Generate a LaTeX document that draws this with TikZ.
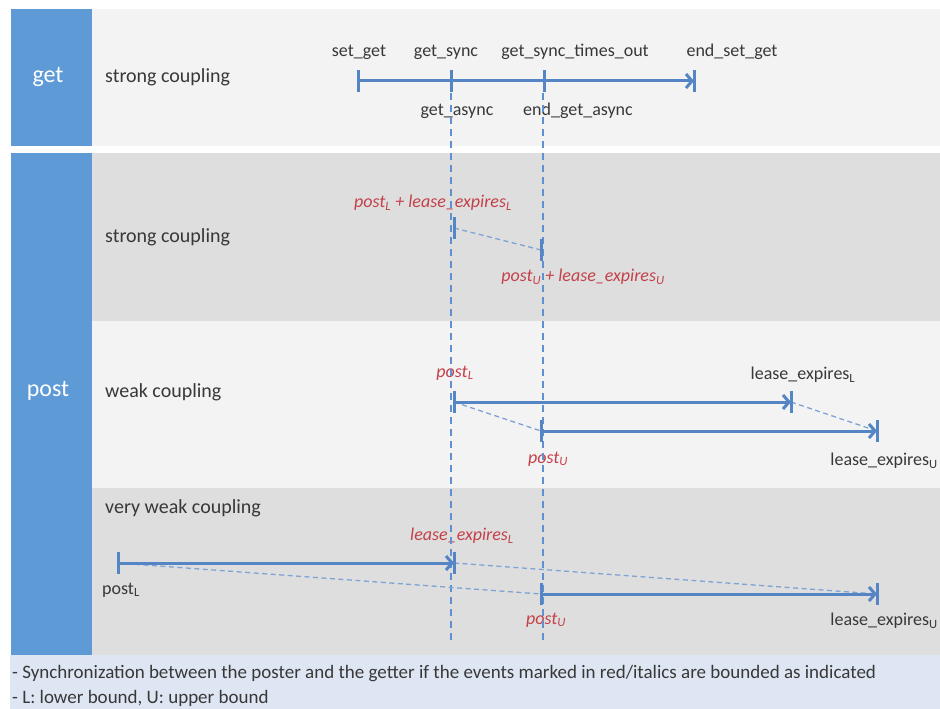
\documentclass[tikz,border=0pt]{standalone}
\usepackage{fontspec}
\setmainfont{Carlito}
\usetikzlibrary{arrows.meta}

\definecolor{colblue}{HTML}{5E9BD6}
\definecolor{rowlight}{HTML}{F3F3F3}
\definecolor{rowdark}{HTML}{DEDEDE}
\definecolor{footbg}{HTML}{DDE6F2}
\definecolor{linkblue}{HTML}{5585C4}
\definecolor{guideblue}{HTML}{5F91D0}
\definecolor{boundblue}{HTML}{7EA4D6}
\definecolor{evred}{HTML}{C4404A}
\definecolor{ink}{HTML}{383838}

% lowered index for bounds (L / U)
\newcommand\lo[1]{\textsubscript{#1}}

\begin{document}
\begin{tikzpicture}[x=1pt,y=-1pt,
  lbl/.style={font=\fontsize{18}{20}\selectfont, text=ink, inner sep=0pt},
  redlbl/.style={lbl, text=evred, font=\fontsize{18}{20}\selectfont\itshape},
  rowlbl/.style={font=\fontsize{20}{22}\selectfont, text=ink, anchor=west, inner sep=0pt},
  grp/.style={font=\fontsize{24}{26}\selectfont, text=white, inner sep=0pt},
  footlbl/.style={font=\fontsize{19}{21}\selectfont, text=ink, anchor=west, inner sep=0pt},
  span/.style={draw=linkblue, line width=3pt, -{Straight Barb[length=6pt,width=14pt]}},
  tickmark/.style={draw=linkblue, line width=3pt},
  bound/.style={draw=boundblue, line width=1.3pt, dash pattern=on 5pt off 3.5pt},
  guide/.style={draw=guideblue, line width=1.1pt, dash pattern=on 7pt off 5pt}]

\newcommand\tickat[1]{\draw[tickmark] (#1) ++(0,-11) -- ++(0,22);}

\useasboundingbox (0,0) rectangle (940,709);
\fill[white] (0,0) rectangle (940,709);

% ---- bands ----
\fill[rowlight] (92,9) rectangle (940,146);
\fill[rowdark]  (92,153) rectangle (940,321);
\fill[rowlight] (92,321) rectangle (940,488);
\fill[rowdark]  (92,488) rectangle (940,655);
\fill[colblue]  (11,9) rectangle (92,146);
\fill[colblue]  (11,153) rectangle (92,655);
\fill[footbg]   (10,655) rectangle (940,709);

% ---- group and row titles ----
\node[grp] (gget)  at (48,77)  {get};
\node[grp] (gpost) at (48,391) {post};
\node[rowlbl] (rget)    at (105,77)  {strong coupling};
\node[rowlbl] (rstrong) at (105,237) {strong coupling};
\node[rowlbl] (rweak)   at (105,392) {weak coupling};
\node[rowlbl] (rvweak)  at (105,508) {very weak coupling};

% ---- footer ----
\node[footlbl] (f1) at (12,674) {- Synchronization between the poster and the getter if the events marked in red/italics are bounded as indicated};
\node[footlbl] (f2) at (12,698) {- L: lower bound, U: upper bound};

% ---- event points ----
\coordinate (gS) at (358,81);
\coordinate (gA) at (451,81);
\coordinate (gT) at (544,81);
\coordinate (gE) at (694,81);

\coordinate (sL) at (454,228);
\coordinate (sU) at (541,250);

\coordinate (wL1) at (454,402);
\coordinate (wL2) at (791,402);
\coordinate (wU1) at (541,431);
\coordinate (wU2) at (877,431);

\coordinate (vL1) at (118,563);
\coordinate (vL2) at (454,563);
\coordinate (vU1) at (541,594);
\coordinate (vU2) at (877,594);

% ---- event labels ----
\node[lbl] (tS) at (359,52) {set\_get};
\node[lbl] (tA) at (446,52) {get\_sync};
\node[lbl] (tT) at (575,52) {get\_sync\_times\_out};
\node[lbl] (tE) at (732,52) {end\_set\_get};
\node[lbl] (bA) at (457,111) {get\_async};
\node[lbl] (bT) at (578,111) {end\_get\_async};

\node[redlbl] (sLl) at (433,203) {post\lo{L} + lease\_expires\lo{L}};
\node[redlbl] (sUl) at (583,277) {post\lo{U} + lease\_expires\lo{U}};

\node[redlbl] (wL1l) at (455,373) {post\lo{L}};
\node[lbl]    (wL2l) at (803,375) {lease\_expires\lo{L}};
\node[redlbl] (wU1l) at (548,459) {post\lo{U}};
\node[lbl,anchor=east] (wU2l) at (938,461) {lease\_expires\lo{U}};

\node[lbl]    (vL1l) at (121,590) {post\lo{L}};
\node[redlbl] (vL2l) at (462,536) {lease\_expires\lo{L}};
\node[redlbl] (vU1l) at (546,620) {post\lo{U}};
\node[lbl,anchor=east] (vU2l) at (938,621) {lease\_expires\lo{U}};

% ---- synchronisation guides ----
\coordinate (guA1) at (451,93);
\coordinate (guA2) at (451,640);
\coordinate (guT1) at (543,93);
\coordinate (guT2) at (543,640);
\draw[guide] (guA1) -- (guA2);
\draw[guide] (guT1) -- (guT2);

% ---- bound links ----
\draw[bound] (sL) -- (sU);
\draw[bound] (wL1) -- (wU1);
\draw[bound] (wL2) -- (wU2);
\draw[bound] (vL1) -- (vU1);
\draw[bound] (vL2) -- (vU2);

% ---- intervals ----
\draw[span] (gS) -- (gE);
\draw[span] (wL1) -- (wL2);
\draw[span] (wU1) -- (wU2);
\draw[span] (vL1) -- (vL2);
\draw[span] (vU1) -- (vU2);

\foreach \p in {gS,gA,gT,gE,sL,sU,wL1,wL2,wU1,wU2,vL1,vL2,vU1,vU2} {\tickat{\p}}

\end{tikzpicture}
\end{document}
